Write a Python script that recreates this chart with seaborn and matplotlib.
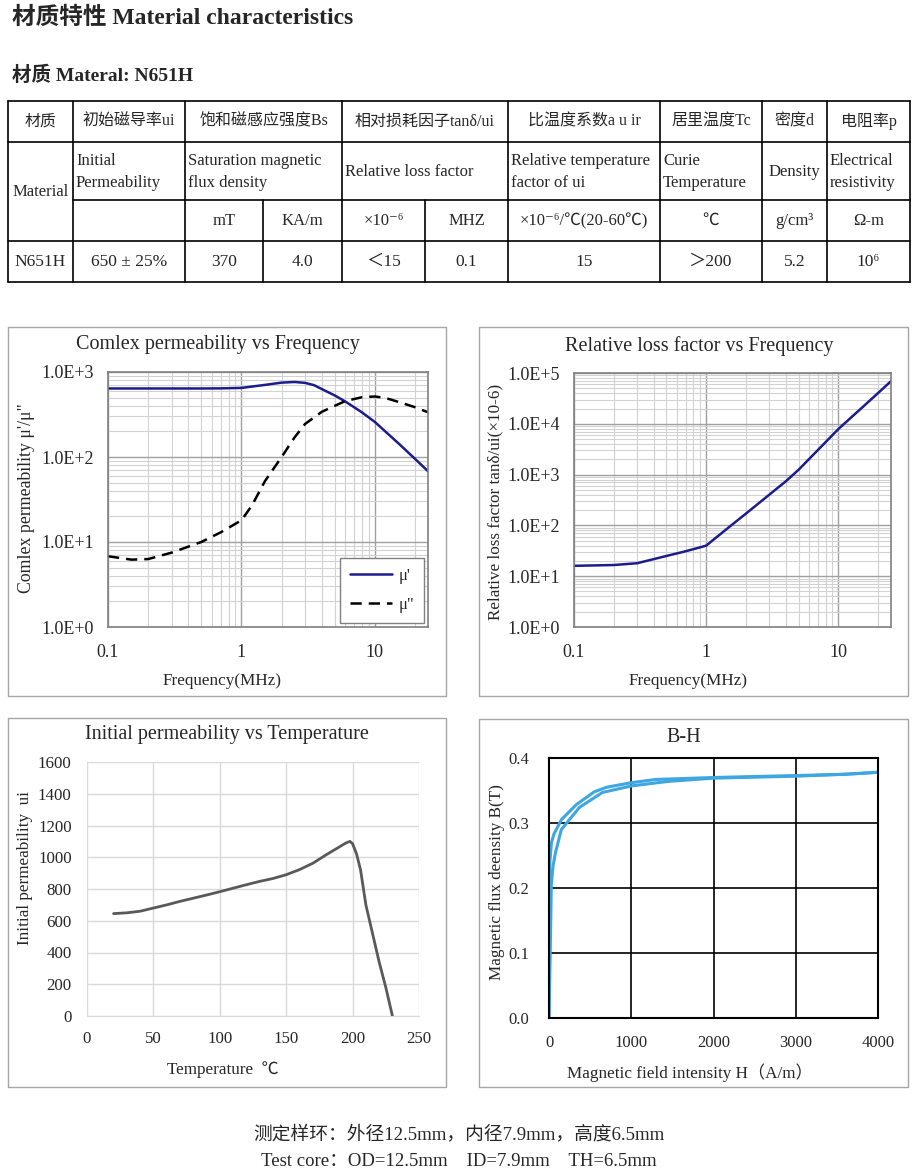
import numpy as np
import pandas as pd
import matplotlib
matplotlib.use('Agg')
import matplotlib.pyplot as plt
from matplotlib.ticker import LogLocator, NullFormatter, FuncFormatter
import seaborn as sns

sns.set_style('white')
plt.rcParams['font.family'] = ['Liberation Serif', 'Noto Sans CJK SC', 'DejaVu Sans']
plt.rcParams['axes.unicode_minus'] = False

W, H = 920, 1173

# ---- table text ----
header_cn = ['材质', '初始磁导率ui', '饱和磁感应强度Bs', '相对损耗因子tanδ/ui',
             '比温度系数a u ir', '居里温度Tc', '密度d', '电阻率p']
header_en = ['Material', 'Initial\nPermeability', 'Saturation magnetic\nflux density',
             'Relative loss factor', 'Relative temperature\nfactor of ui',
             'Curie\nTemperature', 'Density', 'Electrical\nresistivity']
units = ['mT', 'KA/m', '×10⁻⁶', 'MHZ', '×10⁻⁶/℃(20-60℃)', '℃', 'g/cm³', 'Ω-m']
values = ['N651H', '650 ± 25%', '370', '4.0', '＜15', '0.1', '15', '＞200', '5.2', '10⁶']

# ---- complex permeability vs frequency ----
freq1 = [0.1, 0.15, 0.2, 0.3, 0.5, 0.7, 1.0, 1.5, 2.0, 2.5, 3.0, 3.5, 4.0, 5.0, 6.0, 8.0, 10, 15, 20, 25]
mu_real = [640, 640, 640, 640, 640, 642, 650, 705, 750, 763, 745, 700, 630, 530, 450, 335, 258, 145, 95, 68]
freq1b = [0.1, 0.15, 0.2, 0.3, 0.5, 0.7, 1.0, 1.2, 1.5, 2.0, 2.5, 3.0, 4.0, 5.0, 6.0, 8.0, 10, 12, 15, 20, 25]
mu_imag = [6.8, 6.2, 6.3, 7.5, 10, 13, 18, 27, 52, 100, 170, 245, 340, 400, 455, 505, 515, 495, 445, 385, 336]

# ---- relative loss factor vs frequency ----
freq2 = [0.1, 0.2, 0.3, 0.5, 0.7, 0.9, 1.0, 1.5, 2, 3, 4, 5, 7, 10, 15, 20, 25]
loss = [16, 16.6, 18, 25, 31, 37, 40, 94, 171, 402, 737, 1245, 3050, 7900, 20500, 40500, 69000]

# ---- initial permeability vs temperature ----
temp = [20, 30, 40, 50, 60, 70, 80, 90, 100, 110, 120, 130, 140, 150, 160, 170, 180, 190,
        195, 198, 200, 203, 206, 210, 215, 220, 225, 230]
ui = [645, 650, 660, 680, 700, 722, 742, 762, 783, 805, 827, 848, 866, 890, 922, 962, 1015,
      1065, 1090, 1100, 1085, 1020, 920, 700, 520, 340, 180, 0]

# ---- B-H ----
h_up = [0, 5, 10, 30, 60, 150, 330, 550, 700, 1000, 1300, 2000, 3000, 3600, 4000]
b_up = [0, 0.15, 0.24, 0.27, 0.283, 0.305, 0.328, 0.348, 0.355, 0.362, 0.367, 0.370, 0.373, 0.375, 0.378]
h_lo = [0, 15, 28, 50, 80, 150, 370, 650, 1000, 1450, 2000, 3000, 3600, 4000]
b_lo = [0, 0.10, 0.205, 0.235, 0.255, 0.29, 0.324, 0.347, 0.357, 0.364, 0.369, 0.372, 0.375, 0.378]

fig = plt.figure(figsize=(W / 100, H / 100), dpi=100)


def px_axes(x0, y0, x1, y1):
    return fig.add_axes([x0 / W, 1 - y1 / H, (x1 - x0) / W, (y1 - y0) / H])


bg = px_axes(0, 0, W, H)
bg.set_xlim(0, W)
bg.set_ylim(H, 0)
bg.axis('off')

# headings
bg.text(12, 18, '材质特性 Material characteristics', fontsize=17, fontweight='bold', va='center')
bg.text(12, 75, '材质 Materal: N651H', fontsize=14, fontweight='bold', va='center')

# table grid
cols = [8, 73, 185, 342, 508, 660, 762, 827, 910]
for y in [101, 142, 241, 282]:
    bg.plot([8, 910], [y, y], color='black', lw=1.2)
bg.plot([73, 910], [200, 200], color='black', lw=1.2)
for x in cols:
    bg.plot([x, x], [101, 282], color='black', lw=1.2)
for x in [263, 425]:
    bg.plot([x, x], [200, 282], color='black', lw=1.2)

fs_t = 12
for i, t in enumerate(header_cn):
    bg.text((cols[i] + cols[i + 1]) / 2, 121.5, t, ha='center', va='center', fontsize=fs_t - 0.5)
bg.text(40.5, 191.5, header_en[0], ha='center', va='center', fontsize=fs_t)
for i, t in enumerate(header_en[1:], start=1):
    if t == 'Density':
        bg.text((cols[i] + cols[i + 1]) / 2, 172, t, ha='center', va='center', fontsize=fs_t)
    else:
        bg.text(cols[i] + 3, 172, t, ha='left', va='center', fontsize=fs_t, linespacing=1.5)
sub = [185, 263, 342, 425, 508, 660, 762, 827, 910]
for i, t in enumerate(units):
    bg.text((sub[i] + sub[i + 1]) / 2, 221, t, ha='center', va='center', fontsize=fs_t)
vcols = [8, 73] + sub
for i, t in enumerate(values):
    bg.text((vcols[i] + vcols[i + 1]) / 2, 262, t, ha='center', va='center', fontsize=fs_t + 0.5)

# panel borders
for (x0, y0, x1, y1) in [(8, 327, 446, 696), (479, 327, 908, 696), (8, 718, 446, 1087), (479, 719, 908, 1087)]:
    bg.plot([x0, x1, x1, x0, x0], [y0, y0, y1, y1, y0], color='#a6a6a6', lw=1)

# chart titles and axis labels
fs_title, fs_lab = 14.5, 12.3
bg.text(218, 345, 'Comlex permeability vs Frequency', ha='center', va='center', fontsize=fs_title)
bg.text(222, 681, 'Frequency(MHz)', ha='center', va='center', fontsize=fs_lab)
bg.text(27, 498, 'Comlex permeability μ\'/μ"', ha='center', va='center', fontsize=fs_lab + 0.5, rotation=90)

bg.text(699, 346, 'Relative loss factor vs Frequency', ha='center', va='center', fontsize=fs_title)
bg.text(688, 681, 'Frequency(MHz)', ha='center', va='center', fontsize=fs_lab)
bg.text(495, 502, 'Relative loss factor tanδ/ui(×10-6)', ha='center', va='center', fontsize=fs_lab, rotation=90)

bg.text(227, 735, 'Initial permeability vs Temperature', ha='center', va='center', fontsize=fs_title)
bg.text(223, 1070, 'Temperature  ℃', ha='center', va='center', fontsize=fs_lab)
bg.text(25, 868, 'Initial permeability  ui', ha='center', va='center', fontsize=fs_lab, rotation=90)

bg.text(684, 737, 'B-H', ha='center', va='center', fontsize=fs_title)
bg.text(690, 1073, 'Magnetic field intensity H（A/m）', ha='center', va='center', fontsize=fs_lab)
bg.text(497, 882, 'Magnetic flux deensity B(T)', ha='center', va='center', fontsize=fs_lab, rotation=90)

# footer
bg.text(459, 1134, '测定样环：外径12.5mm，内径7.9mm，高度6.5mm', ha='center', va='center', fontsize=13.5)
bg.text(459, 1161, 'Test core：OD=12.5mm    ID=7.9mm    TH=6.5mm', ha='center', va='center', fontsize=13.5)


def log_style(ax, ymin, ymax):
    ax.set_xscale('log')
    ax.set_yscale('log')
    ax.set_xlim(0.1, 25)
    ax.set_ylim(ymin, ymax)
    ax.set_xticks([0.1, 1, 10])
    ax.set_xticklabels(['0.1', '1', '10'])
    ax.xaxis.set_minor_locator(LogLocator(base=10, subs=np.arange(2, 10)))
    ax.yaxis.set_minor_locator(LogLocator(base=10, subs=np.arange(2, 10)))
    ax.xaxis.set_minor_formatter(NullFormatter())
    ax.yaxis.set_minor_formatter(NullFormatter())
    ax.yaxis.set_major_locator(LogLocator(base=10, numticks=10))
    ax.yaxis.set_major_formatter(FuncFormatter(lambda v, p: f'1.0E+{int(round(np.log10(v)))}'))
    ax.grid(which='major', color='#a0a0a0', lw=1.0)
    ax.grid(which='minor', color='#d2d2d2', lw=0.8)
    ax.set_axisbelow(True)
    ax.tick_params(which='both', length=0, labelsize=13)
    ax.tick_params(axis='y', pad=10)
    ax.tick_params(axis='x', pad=12)
    for s in ax.spines.values():
        s.set_color('#808080')
        s.set_linewidth(1.2)
    ax.set_xlabel('')
    ax.set_ylabel('')


# chart 1
ax1 = px_axes(108, 372, 428, 627)
sns.lineplot(x=freq1, y=mu_real, ax=ax1, color='#1c1c8c', lw=1.8, label="μ'")
sns.lineplot(x=freq1b, y=mu_imag, ax=ax1, color='black', lw=1.8, linestyle=(0, (4.5, 2.8)), label='μ"')
log_style(ax1, 1, 1000)
ax1.legend(loc='lower right', fontsize=12, frameon=True, fancybox=False, edgecolor='#808080',
           framealpha=1, handlelength=2.5, handletextpad=0.4, labelspacing=0.8,
           borderpad=0.6, borderaxespad=0.25)

# chart 2
ax2 = px_axes(574, 373, 891, 627)
sns.lineplot(x=freq2, y=loss, ax=ax2, color='#1c1c8c', lw=1.8)
log_style(ax2, 1, 1e5)

# chart 3
ax3 = px_axes(87, 762, 419, 1016)
sns.lineplot(x=temp, y=ui, ax=ax3, color='#595959', lw=2)
ax3.set_xlim(0, 250)
ax3.set_ylim(0, 1600)
ax3.set_xticks(range(0, 251, 50))
ax3.set_yticks(range(0, 1601, 200))
ax3.grid(color='#d9d9d9', lw=1)
ax3.set_axisbelow(True)
for k in ['left', 'top', 'right']:
    ax3.spines[k].set_visible(False)
ax3.spines['bottom'].set_color('#d9d9d9')
ax3.tick_params(length=0, labelsize=12.2)
ax3.tick_params(axis='y', pad=11)
ax3.tick_params(axis='x', pad=11)

# chart 4
ax4 = px_axes(549, 758, 878, 1018)
sns.lineplot(x=h_up, y=b_up, ax=ax4, color='#3ea6e0', lw=2.2, sort=False)
sns.lineplot(x=h_lo, y=b_lo, ax=ax4, color='#3ea6e0', lw=2.2, sort=False)
ax4.set_xlim(0, 4000)
ax4.set_ylim(0, 0.4)
ax4.set_xticks(range(0, 4001, 1000))
ax4.set_yticks([0, 0.1, 0.2, 0.3, 0.4])
ax4.yaxis.set_major_formatter(FuncFormatter(lambda v, p: f'{v:.1f}'))
ax4.grid(color='black', lw=1.2)
ax4.set_axisbelow(True)
for s in ax4.spines.values():
    s.set_color('black')
    s.set_linewidth(1.5)
ax4.tick_params(length=0, labelsize=12)
ax4.tick_params(axis='y', pad=14)
ax4.tick_params(axis='x', pad=12)

fig.savefig('out.png', dpi=100)
